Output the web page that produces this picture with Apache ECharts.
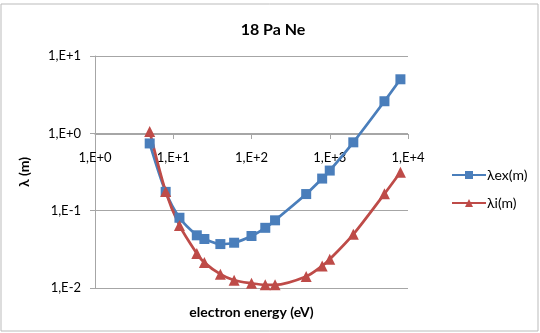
<!DOCTYPE html>
<html>
<head>
<meta charset="utf-8">
<script src="https://cdn.jsdelivr.net/npm/echarts@6/dist/echarts.min.js"></script>
<style>
  html, body { margin: 0; padding: 0; background: #fff; }
  #chart { width: 540px; height: 333px; }
</style>
</head>
<body>
<div id="chart"></div>
<script>
// electron energy (eV)
const energy = [5, 8, 12, 20, 25, 40, 60, 100, 150, 200, 500, 800, 1000, 2000, 5000, 8000];
// lambda ex (m)
const lambdaEx = [0.74, 0.175, 0.081, 0.048, 0.043, 0.037, 0.0385, 0.047, 0.060, 0.075, 0.164, 0.26, 0.33, 0.765, 2.6, 5.0];
// lambda i (m)
const lambdaI = [1.06, 0.177, 0.0645, 0.028, 0.0213, 0.0151, 0.0126, 0.0115, 0.011, 0.011, 0.0141, 0.0193, 0.0235, 0.0494, 0.165, 0.314];

const xTickLabels = ['1,E+0', '1,E+1', '1,E+2', '1,E+3', '1,E+4'];
const yTickLabels = ['1,E-2', '1,E-1', '1,E+0', '1,E+1'];

const font = 'Lato, "Liberation Sans", sans-serif';

function zip(xs, ys) {
    return xs.map((x, i) => [x, ys[i]]);
}

const myChart = echarts.init(document.getElementById('chart'));
var option = {
    animation: false,
    textStyle: {fontFamily: font},
    title: {
        text: '18 Pa Ne',
        left: 268,
        top: 17,
        textAlign: 'center',
        textStyle: {fontSize: 16, fontWeight: 'bold', color: '#000', fontFamily: font}
    },
    graphic: [{
        type: 'rect',
        shape: {x: 1, y: 4, width: 537, height: 327},
        style: {fill: 'none', stroke: '#bbbbbb', lineWidth: 1},
        silent: true
    }],
    legend: {
        orient: 'vertical',
        left: 446,
        top: 163,
        itemWidth: 34,
        itemHeight: 10,
        itemGap: 14,
        textStyle: {fontSize: 14, color: '#000', fontFamily: font, padding: [0, 0, 0, -4]},
        data: ['λex(m)', 'λi(m)']
    },
    grid: {left: 95, right: 132, top: 56, bottom: 45},
    xAxis: {
        type: 'log',
        logBase: 10,
        min: 1,
        max: 10000,
        offset: -154,
        name: 'electron energy (eV)',
        nameLocation: 'middle',
        nameGap: 171,
        nameTextStyle: {fontSize: 14, fontWeight: 'bold', color: '#000', fontFamily: font},
        axisLine: {lineStyle: {color: '#a6a6a6', width: 1}},
        axisTick: {show: true, length: 5, lineStyle: {color: '#a6a6a6'}},
        axisLabel: {
            margin: 17,
            fontSize: 13,
            color: '#000',
            formatter: function (v) {
                return xTickLabels[Math.round(Math.log10(v))];
            }
        },
        splitLine: {show: false},
        minorTick: {show: false}
    },
    yAxis: {
        type: 'log',
        logBase: 10,
        min: 0.01,
        max: 10,
        name: 'λ (m)',
        nameLocation: 'middle',
        nameGap: 64,
        nameRotate: 90,
        nameTextStyle: {fontSize: 14, fontWeight: 'bold', color: '#000', fontFamily: font},
        axisLine: {show: true, lineStyle: {color: '#a6a6a6', width: 1}},
        axisTick: {show: true, length: 5, lineStyle: {color: '#a6a6a6'}},
        axisLabel: {
            margin: 14,
            fontSize: 13,
            color: '#000',
            formatter: function (v) {
                return yTickLabels[Math.round(Math.log10(v)) + 2];
            }
        },
        splitLine: {show: true, lineStyle: {color: '#a6a6a6', width: 1}}
    },
    series: [
        {
            name: 'λex(m)',
            type: 'line',
            smooth: 0.3,
            data: zip(energy, lambdaEx),
            symbol: 'rect',
            symbolSize: 10,
            lineStyle: {color: '#4a7ebb', width: 2.75},
            itemStyle: {color: '#4a7ebb'}
        },
        {
            name: 'λi(m)',
            type: 'line',
            smooth: 0.3,
            data: zip(energy, lambdaI),
            symbol: 'triangle',
            symbolSize: 11,
            lineStyle: {color: '#be4b48', width: 2.75},
            itemStyle: {color: '#be4b48'}
        }
    ]
};
myChart.setOption(option);
</script>
</body>
</html>
